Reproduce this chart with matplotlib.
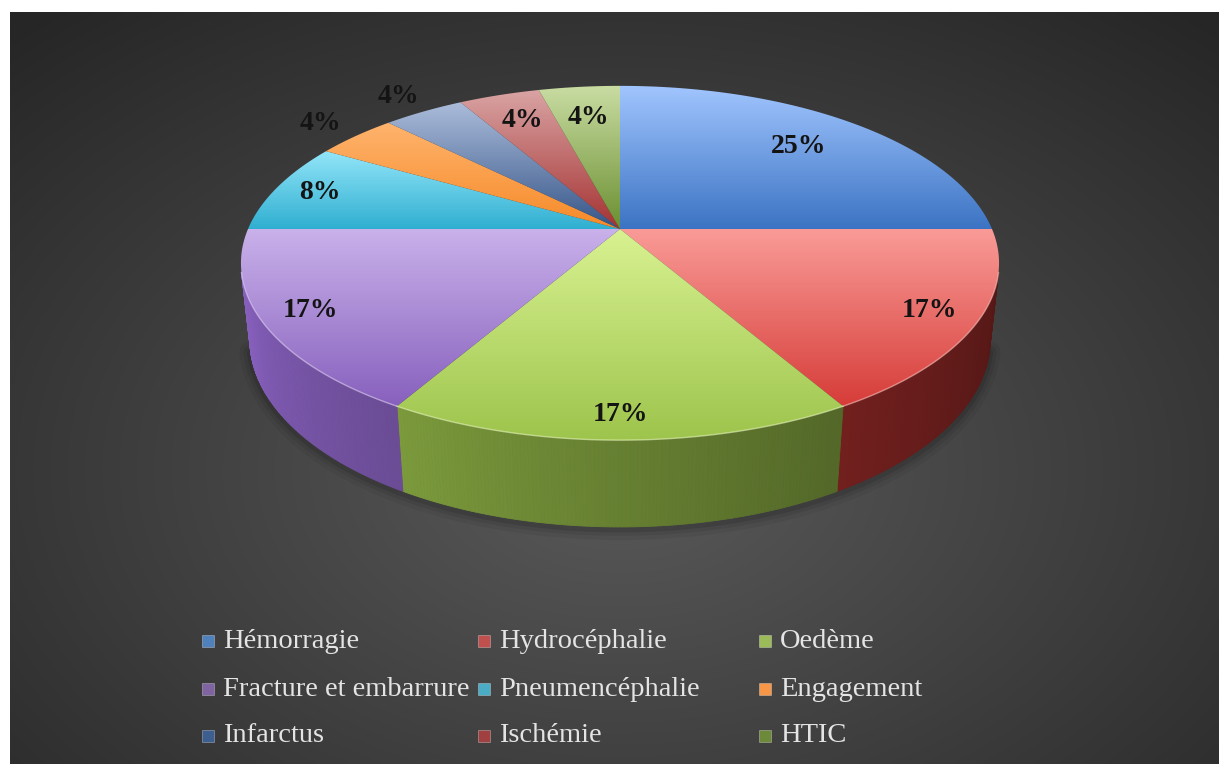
import matplotlib
matplotlib.use('Agg')
import matplotlib.pyplot as plt
import matplotlib.colors as mcolors
from matplotlib.patches import Polygon, Rectangle
import numpy as np

categories = ['Hémorragie', 'Hydrocéphalie', 'Oedème',
              'Fracture et embarrure', 'Pneumencéphalie', 'Engagement',
              'Infarctus', 'Ischémie', 'HTIC']
counts = [6, 4, 4, 4, 2, 1, 1, 1, 1]

# top face shading: back (light) -> front (dark)
top_light = ['#a2c6ff', '#fa9c98', '#d9f292', '#cab2eb', '#94e6f9',
             '#ffb46e', '#acbddb', '#daa5a5', '#cadda4']
top_dark = ['#3b73c3', '#d63c38', '#9dc44c', '#8760bd', '#2eaed0',
            '#f68a28', '#345487', '#a53232', '#6a8f30']
legend_colors = ['#4f81bd', '#c0504d', '#9bbb59', '#8064a2', '#4bacc6',
                 '#f79646', '#3d5f8f', '#a04040', '#6d8a3a']
label_radius = [0.75, 0.88, 0.9, 0.88, 0.87, 1.15, 1.15, 0.78, 0.75]

# camera / projection of a unit disc
cx, cy = 620.0, 229.0
tilt = np.radians(27.3)
u = 0.216               # radius / camera distance
f = 372.0 / u
thick = 0.233           # pie height relative to radius


def project(x, y, z):
    D = 1.0 / u
    up = y * np.cos(tilt) - z * np.sin(tilt)
    depth = D - (y * np.sin(tilt) + z * np.cos(tilt))
    return cx + f * x / depth, cy - f * up / depth


def rim(theta, r=1.0, y=0.0):
    return project(r * np.cos(theta), y, -r * np.sin(theta))


def side_shade(deg):
    t = np.clip((-14.0 - deg) / 152.0, 0, 1)
    return 0.40 + 0.62 * t ** 1.3


W, H = 1219, 764
fig = plt.figure(figsize=(W / 100, H / 100), dpi=100)
fig.patch.set_facecolor('white')
ax = fig.add_axes([0, 0, 1, 1])
ax.set_axis_off()

# dark radial backdrop
gx, gy = np.meshgrid(np.linspace(10, W, 300), np.linspace(12, H, 200))
rr = np.sqrt(((gx - 620) / 900) ** 2 + ((gy - 470) / 600) ** 2)
rr = np.clip(rr, 0, 1)[..., None]
inner = np.array(mcolors.to_rgb('#5a5a5a'))
outer = np.array(mcolors.to_rgb('#262626'))
ax.imshow(inner * (1 - rr) + outer * rr, extent=(10, W, H, 12),
          aspect='auto', interpolation='bilinear', zorder=0)

fracs = np.array(counts) / np.sum(counts)
ends = 90.0 - 360.0 * np.cumsum(fracs)
starts = ends + 360.0 * fracs
lim = np.degrees(np.arcsin(u / np.cos(tilt)))

# soft shadow under the front of the pie
th = np.radians(np.linspace(-180 + lim, -lim, 200))
bx, by = rim(th, y=-thick)
for lw, a in [(16, 0.05), (10, 0.07), (5, 0.1)]:
    ax.plot(bx, by + 2, color='black', lw=lw, alpha=a,
            solid_capstyle='round', zorder=1)

# outer walls, built from narrow strips so shading follows the angle
for i in range(len(counts)):
    lo = max(ends[i], -180 + lim)
    hi = min(starts[i], -lim)
    if lo >= hi:
        continue
    base = np.array(mcolors.to_rgb(top_dark[i]))
    steps = np.linspace(lo, hi, int((hi - lo) * 2) + 2)
    for a0, a1 in zip(steps[:-1], steps[1:]):
        t0, t1 = np.radians(a0), np.radians(a1)
        x0, y0 = rim(t0)
        x1, y1 = rim(t1)
        x2, y2 = rim(t1, y=-thick)
        x3, y3 = rim(t0, y=-thick)
        c = np.clip(base * side_shade(0.5 * (a0 + a1)), 0, 1)
        ax.add_patch(Polygon([(x0, y0), (x1, y1), (x2, y2), (x3, y3)],
                             closed=True, facecolor=c, edgecolor=c,
                             lw=0.6, zorder=2))

# top faces with vertical gradient
for i in range(len(counts)):
    th = np.radians(np.linspace(starts[i], ends[i], 120))
    px, py = rim(th)
    pts = np.vstack([[cx, cy], np.column_stack([px, py])])
    poly = Polygon(pts, closed=True, facecolor='none', edgecolor='none',
                   zorder=3)
    ax.add_patch(poly)
    y0, y1 = pts[:, 1].min(), pts[:, 1].max()
    x0, x1 = pts[:, 0].min(), pts[:, 0].max()
    t = np.linspace(0, 1, 256)[:, None, None]
    lc = np.array(mcolors.to_rgb(top_light[i]))
    dc = np.array(mcolors.to_rgb(top_dark[i]))
    grad = lc * (1 - t) + dc * t
    im = ax.imshow(grad, extent=(x0 - 1, x1 + 1, y1 + 1, y0 - 1),
                   aspect='auto', interpolation='bilinear', zorder=3)
    im.set_clip_path(poly)

    # light bevel on the front rim
    lo = max(ends[i], -180 + lim)
    hi = min(starts[i], -lim)
    if lo < hi:
        tt = np.radians(np.linspace(lo, hi, 80))
        hx, hy = rim(tt)
        hl = np.array(mcolors.to_rgb(top_light[i])) * 0.6 + 0.4
        ax.plot(hx, hy, color=hl, lw=1.0, alpha=0.6, zorder=4)

# percentage labels
for i in range(len(counts)):
    mid = np.radians(0.5 * (starts[i] + ends[i]))
    lx, ly = rim(mid, r=label_radius[i])
    ax.text(lx, ly, f'{round(fracs[i] * 100):d}%', ha='center',
            va='center', fontsize=20, fontweight='bold',
            family='Liberation Serif', color='#141414', zorder=5)

# legend, three entries per row
col_x = [202, 478, 759]
row_y = [641, 689, 736]
for i, name in enumerate(categories):
    mx, my = col_x[i % 3], row_y[i // 3]
    ax.add_patch(Rectangle((mx, my - 6), 12, 12,
                           facecolor=legend_colors[i],
                           edgecolor=mcolors.to_rgba('white', 0.35),
                           lw=0.6, zorder=5))
    ax.text(mx + 21, my, name, ha='left', va='center', fontsize=20.5,
            family='Liberation Serif', color='#e4e4e4', zorder=5)

ax.set_xlim(0, W)
ax.set_ylim(H, 0)
fig.savefig('out.png', dpi=100, facecolor=fig.get_facecolor())
